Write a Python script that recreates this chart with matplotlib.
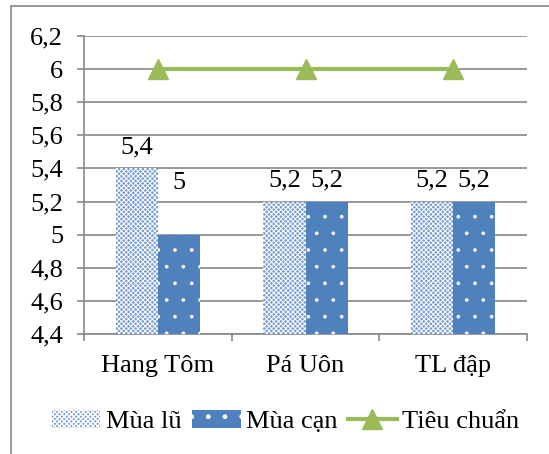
import matplotlib.pyplot as plt
import numpy as np
from matplotlib.patches import Rectangle
from matplotlib.ticker import FuncFormatter, FixedLocator

plt.rcParams['font.family'] = ['Liberation Serif', 'DejaVu Serif']

sites = ['Hang Tôm', 'Pá Uôn', 'TL đập']
mua_lu = [5.4, 5.2, 5.2]
mua_can = [5.0, 5.2, 5.2]
tieu_chuan = [6, 6, 6]
lu_labels = ['5,4', '5,2', '5,2']
can_labels = ['5', '5,2', '5,2']

blue = '#4F81BD'
green = '#9BBB59'
grid = '#888888'
fs = 19

fig = plt.figure(figsize=(5.49, 4.54), dpi=100)
ax = fig.add_axes([0.153, 0.2643, 0.807, 0.6564])

x = np.arange(len(sites))
w = 0.285
bottom = 4.4

with plt.rc_context({'hatch.linewidth': 0.7}):
    ax.bar(x - w / 2, np.array(mua_lu) - bottom, w, bottom=bottom,
           facecolor='#789DD3', edgecolor='white', hatch='xxxxxxx',
           linewidth=0, zorder=3, label='Mùa lũ')
with plt.rc_context({'hatch.linewidth': 0.2}):
    ax.bar(x + w / 2, np.array(mua_can) - bottom, w, bottom=bottom,
           facecolor=blue, edgecolor='white', hatch='.',
           linewidth=0, zorder=3, label='Mùa cạn')
ax.plot(x, tieu_chuan, color=green, lw=3, marker='^', ms=15,
        zorder=4, label='Tiêu chuẩn')

# value labels over the bars
for i in range(len(sites)):
    ax.annotate(lu_labels[i], (x[i] - w / 2, mua_lu[i]), xytext=(0, 7),
                textcoords='offset points', ha='center', va='bottom', fontsize=fs)
    off = 29 if can_labels[i] == '5' else 7
    ax.annotate(can_labels[i], (x[i] + w / 2, mua_can[i]), xytext=(0, off),
                textcoords='offset points', ha='center', va='bottom', fontsize=fs)

ax.set_xlim(-0.5, 2.5)
ax.set_ylim(4.4, 6.2)
ax.set_yticks(np.arange(4.4, 6.21, 0.2))
ax.yaxis.set_major_formatter(FuncFormatter(lambda v, p: ('%g' % round(v, 1)).replace('.', ',')))
ax.set_xticks(x)
ax.set_xticklabels(sites)
ax.xaxis.set_minor_locator(FixedLocator([-0.5, 0.5, 1.5, 2.5]))
ax.tick_params(axis='x', which='major', length=0, pad=15, labelsize=fs)
ax.tick_params(axis='x', which='minor', length=5, width=1.2, color=grid)
ax.tick_params(axis='y', length=5, width=1.2, color=grid, pad=10, labelsize=fs)

ax.grid(axis='y', color=grid, lw=1.2, zorder=0)
ax.set_axisbelow(True)
for s in ['top', 'right']:
    ax.spines[s].set_visible(False)
for s in ['left', 'bottom']:
    ax.spines[s].set_color(grid)
    ax.spines[s].set_linewidth(1.2)

h, l = ax.get_legend_handles_labels()
order = [1, 2, 0]
fig.legend([h[i] for i in order], [l[i] for i in order], loc='center',
           bbox_to_anchor=(0.52, 0.072), ncol=3, frameon=False,
           fontsize=fs, handlelength=1.85, handleheight=0.7,
           handletextpad=0.2, columnspacing=0.4)

# outer chart border
fig.add_artist(Rectangle((11 / 549, -0.1), 1.0, 1.1 - 6 / 454, transform=fig.transFigure,
                         fill=False, edgecolor=grid, lw=1.2))

fig.savefig('out.png', dpi=100)
